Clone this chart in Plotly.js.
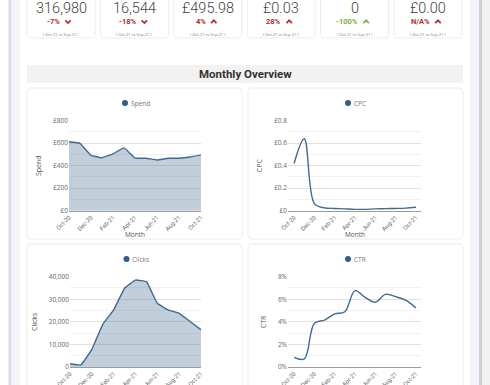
<!DOCTYPE html>
<html><head><meta charset="utf-8">
<script src="https://cdn.plot.ly/plotly-3.0.1.min.js"></script>
<style>html,body{margin:0;padding:0;background:#fff;overflow:hidden}#chart{width:490px;height:385px}</style>
</head><body><div id="chart"></div>
<script>
// ---- data ----
const months = ['Oct-20','Nov-20','Dec-20','Jan-21','Feb-21','Mar-21','Apr-21','May-21','Jun-21','Jul-21','Aug-21','Sep-21','Oct-21'];
const spend  = [613, 599, 492, 471, 505, 558, 468, 466, 451, 466, 466, 477, 495.98];
const cpc    = [0.42, 0.64, 0.063, 0.025, 0.02, 0.016, 0.012, 0.012, 0.016, 0.018, 0.02, 0.023, 0.03];
const clicks = [1460, 950, 7800, 18900, 25300, 34900, 38500, 37800, 28200, 25300, 23800, 20176, 16544];
const ctr    = [0.86, 0.72, 3.87, 4.16, 4.7, 4.9, 6.76, 6.17, 5.73, 6.44, 6.23, 5.92, 5.22];
const seriesNames = ['Spend', 'CPC', 'Clicks', 'CTR'];
const kpiValues  = ['316,980', '16,544', '£495.98', '£0.03', '0', '£0.00'];
const kpiChanges = ['-7%', '-18%', '4%', '28%', '-100%', 'N/A%'];
const kpiUp      = [false, false, true, true, true, true];
const kpiGood    = [false, false, false, false, true, false];
const kpiPeriod  = '( Oct-21 vs Sep-21 )';
const sectionTitle = 'Monthly Overview';
const xTitle = 'Month';
const tickMonths = months.filter((m, i) => i % 2 === 0);

// ---- helpers ----
const W = 490, H = 385;
const px = x => x / W;
const py = y => 1 - y / H;
function rrect(x0, y0, x1, y1, r) {
  const P = (x, y) => px(x).toFixed(5) + ',' + py(y).toFixed(5);
  return 'M' + P(x0 + r, y0) + ' L' + P(x1 - r, y0) + ' Q' + P(x1, y0) + ' ' + P(x1, y0 + r) +
    ' L' + P(x1, y1 - r) + ' Q' + P(x1, y1) + ' ' + P(x1 - r, y1) +
    ' L' + P(x0 + r, y1) + ' Q' + P(x0, y1) + ' ' + P(x0, y1 - r) +
    ' L' + P(x0, y0 + r) + ' Q' + P(x0, y0) + ' ' + P(x0 + r, y0) + ' Z';
}
const shapes = [];
const annotations = [];
const rect = (x0, y0, x1, y1, fill, line) => shapes.push({type: 'rect', xref: 'paper', yref: 'paper',
  x0: px(x0), x1: px(x1), y0: py(y1), y1: py(y0), fillcolor: fill, line: {width: line ? 1 : 0, color: line || fill}, layer: 'below'});
const card = (x0, y0, x1, y1) => shapes.push({type: 'path', xref: 'paper', yref: 'paper', path: rrect(x0, y0, x1, y1, 4),
  fillcolor: '#ffffff', line: {color: '#ececec', width: 1}, layer: 'below'});
const text = (x, y, t, size, color, opts) => annotations.push(Object.assign({xref: 'paper', yref: 'paper', x: px(x), y: py(y),
  text: t, showarrow: false, xanchor: 'center', yanchor: 'middle', font: {size: size, color: color, family: 'Open Sans, sans-serif'}}, opts || {}));

// page frame
rect(8.5, -2, 11.5, 400, '#dcdce0');
rect(11.5, -2, 20, 400, '#f3f4f9');
rect(470, -2, 479, 400, '#f3f4f9');
rect(479, -2, 482, 400, '#cfcfd3');
rect(482, -2, 492, 400, '#f1f1f2');

// KPI cards
const pctW = [11, 17, 9, 13, 20, 17];
for (let i = 0; i < 6; i++) {
  const x0 = 27 + i * 73.4, x1 = x0 + 68, c = x0 + 34;
  card(x0, -10, x1, 38);
  text(c, 8, kpiValues[i], 14.5, '#444', {font: {size: 14.5, color: '#444', family: 'Roboto, sans-serif', weight: 300}});
  const col = kpiGood[i] ? '#7cb342' : '#b0302a';
  const gw = pctW[i] + 3 + 5.5;
  const tr = c - gw / 2 + pctW[i];
  text(tr, 21.8, kpiChanges[i], 7.5, col, {xanchor: 'right', font: {size: 7.5, color: col, family: 'Roboto, sans-serif', weight: 700}});
  const l = tr + 3, cy = 21.7;
  const pts = kpiUp[i] ? [[l, cy + 1.4], [l + 2.75, cy - 1.4], [l + 5.5, cy + 1.4]] : [[l, cy - 1.4], [l + 2.75, cy + 1.4], [l + 5.5, cy - 1.4]];
  shapes.push({type: 'path', xref: 'paper', yref: 'paper', line: {color: col, width: 1.7},
    path: 'M' + pts.map(p => px(p[0]).toFixed(5) + ',' + py(p[1]).toFixed(5)).join(' L')});
  text(c, 34, kpiPeriod, 4, '#777');
}

// section header
rect(27, 65, 463, 83, '#f2f2f2');
text(245, 74, '<b>' + sectionTitle + '</b>', 11, '#333', {font: {size: 11.5, color: '#333', family: 'Roboto, sans-serif'}});

// chart cards
card(27, 88, 242, 239);
card(248, 88, 463, 239);
card(27, 244, 242, 400);
card(248, 244, 463, 400);

// legends
const legendPos = [[125, 103], [348, 103], [126.5, 259], [348, 259]];
legendPos.forEach((p, i) => {
  shapes.push({type: 'circle', xref: 'paper', yref: 'paper', x0: px(p[0] - 3), x1: px(p[0] + 3), y0: py(p[1] + 3), y1: py(p[1] - 3),
    fillcolor: '#2d5e8c', line: {width: 0}});
  text(p[0] + 3.5, p[1] + 0.3, seriesNames[i], 6.5, '#777', {xanchor: 'left'});
});

// x-axis titles of the top row (bottom row titles fall below the visible area)
text(135, 234, xTitle, 6.5, '#555555');
text(355, 234, xTitle, 6.5, '#555555');

// ---- axes ----
const lineColor = '#3f6a92';
const fillColor = 'rgba(52,92,132,0.3)';
const xtf = {size: 6, color: '#666', family: 'Roboto, sans-serif'};
const ytf = {size: 6.5, color: '#666', family: 'Open Sans, sans-serif'};
const xBase = (domain, range, anchor) => ({domain: domain, range: range, anchor: anchor, type: 'category',
  tickmode: 'array', tickvals: tickMonths, ticktext: tickMonths, tickangle: -45, tickfont: xtf,
  showgrid: false, zeroline: false, showline: true, linecolor: '#9b9b9b', linewidth: 1, ticks: '', fixedrange: true});
const yBase = (domain, range, dtick, minor, anchor, title, extra) => Object.assign({domain: domain, range: range, anchor: anchor,
  dtick: dtick, tickfont: ytf, gridcolor: '#e2e2e2', gridwidth: 1, zeroline: false, showline: false, ticks: '',
  minor: {dtick: minor, showgrid: true, gridcolor: '#f1f1f1', gridwidth: 1},
  title: {text: title, font: {size: 7, color: '#555'}, standoff: 10}, fixedrange: true}, extra || {});

const dTopY = [py(210.7), py(120.7)], dBotY = [py(367), py(276.7)];
const dLX = [px(69), px(201)], dRX = [px(288), px(421)], dLX3 = [px(70), px(201)];
const rFill = [0, 12], rLine = [-0.6, 12.5];

const traces = [
  {x: months, y: spend, xaxis: 'x', yaxis: 'y', type: 'scatter', mode: 'lines', fill: 'tozeroy', fillcolor: fillColor,
    line: {color: lineColor, width: 1.4, shape: 'spline', smoothing: 0.25}, hoverinfo: 'skip', showlegend: false, name: seriesNames[0]},
  {x: months, y: cpc, xaxis: 'x2', yaxis: 'y2', type: 'scatter', mode: 'lines',
    line: {color: lineColor, width: 1.4, shape: 'spline', smoothing: 1}, hoverinfo: 'skip', showlegend: false, name: seriesNames[1]},
  {x: months, y: clicks, xaxis: 'x3', yaxis: 'y3', type: 'scatter', mode: 'lines', fill: 'tozeroy', fillcolor: fillColor,
    line: {color: lineColor, width: 1.4, shape: 'spline', smoothing: 0.25}, hoverinfo: 'skip', showlegend: false, name: seriesNames[2]},
  {x: months, y: ctr, xaxis: 'x4', yaxis: 'y4', type: 'scatter', mode: 'lines',
    line: {color: lineColor, width: 1.4, shape: 'spline', smoothing: 1}, hoverinfo: 'skip', showlegend: false, name: seriesNames[3]}
];

const layout = {
  width: W, height: H, margin: {l: 0, r: 0, t: 0, b: 0}, paper_bgcolor: '#ffffff', plot_bgcolor: 'rgba(0,0,0,0)',
  font: {family: 'Open Sans, sans-serif', color: '#555'}, showlegend: false,
  xaxis: xBase(dLX, rFill, 'y'),
  yaxis: yBase(dTopY, [0, 800], 200, 100, 'x', seriesNames[0], {tickprefix: '£'}),
  xaxis2: xBase(dRX, rLine, 'y2'),
  yaxis2: yBase(dTopY, [0, 0.8], 0.2, 0.1, 'x2', seriesNames[1], {tickprefix: '£'}),
  xaxis3: xBase(dLX3, rFill, 'y3'),
  yaxis3: yBase(dBotY, [0, 40000], 10000, 5000, 'x3', seriesNames[2], {tickformat: ',d'}),
  xaxis4: xBase(dRX, rLine, 'y4'),
  yaxis4: yBase(dBotY, [0, 8], 2, 1, 'x4', seriesNames[3], {ticksuffix: '%'}),
  shapes: shapes, annotations: annotations
};
Plotly.newPlot('chart', traces, layout, {displayModeBar: false, staticPlot: true});
</script></body></html>
